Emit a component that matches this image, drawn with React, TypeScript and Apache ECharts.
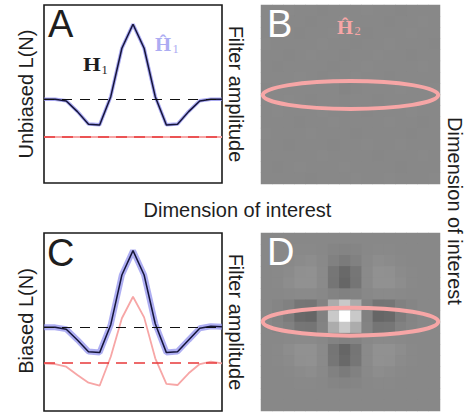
import React, { useEffect, useRef } from "react";
import * as echarts from "echarts";

// ---- data ----
const positions = ["1", "2", "3", "4", "5", "6", "7", "8", "9", "10", "11", "12", "13", "14", "15", "16", "17"];

// Panel A (unbiased)
const h1Unbiased = [0.47, 0.47, 0.461, 0.401, 0.33, 0.326, 0.485, 0.757, 0.892, 0.757, 0.485, 0.326, 0.33, 0.401, 0.461, 0.47, 0.47];
const h1HatUnbiased = [0.47, 0.47, 0.462, 0.402, 0.331, 0.327, 0.485, 0.757, 0.892, 0.757, 0.485, 0.327, 0.331, 0.402, 0.462, 0.47, 0.47];
const refUnbiased = 0.47;
const h2Unbiased = 0.264;

// Panel C (biased)
const h1Biased = [0.47, 0.47, 0.459, 0.399, 0.333, 0.328, 0.485, 0.764, 0.901, 0.764, 0.49, 0.328, 0.333, 0.399, 0.465, 0.476, 0.474];
const h1HatBiased = [0.47, 0.47, 0.46, 0.4, 0.334, 0.329, 0.485, 0.764, 0.901, 0.764, 0.49, 0.329, 0.334, 0.4, 0.465, 0.476, 0.474];
const h2Biased = [0.268, 0.264, 0.249, 0.202, 0.159, 0.142, 0.305, 0.521, 0.642, 0.526, 0.296, 0.152, 0.146, 0.212, 0.264, 0.277, 0.268];
const refBiased = 0.47;
const h2RefBiased = 0.271;

// Panel B: estimated second-order filter (unbiased) — nearly flat
const filterB = [
  [0, 0, 0.01, 0, 0, -0.01, 0, 0, 0, 0.01, 0, 0, -0.01, 0, 0, 0],
  [0, 0.01, 0, 0, -0.01, 0, 0, 0.01, 0, 0, 0, -0.01, 0, 0, 0.01, 0],
  [0, 0, 0, -0.01, 0, 0, 0.01, 0, 0, -0.01, 0, 0, 0, 0.01, 0, 0],
  [0.01, 0, 0, 0, 0, 0.01, 0, 0, -0.01, 0, 0, 0.01, 0, 0, 0, -0.01],
  [0, 0, -0.01, 0, 0.01, 0, 0, -0.01, 0, 0, 0.01, 0, 0, -0.01, 0, 0],
  [0, -0.01, 0, 0, 0, 0, -0.01, 0, 0, 0.01, 0, 0, 0, 0, 0.01, 0],
  [0, 0, 0, 0.01, 0, -0.01, 0, 0, 0.01, 0, 0, -0.01, 0, 0, 0, 0],
  [-0.01, 0, 0, 0, 0, 0, 0, -0.02, -0.01, 0, 0, 0, 0.01, 0, 0, 0.01],
  [0, 0, 0.01, 0, -0.01, 0, 0, -0.01, 0, 0, -0.01, 0, 0, 0, 0, 0],
  [0, 0.01, 0, 0, 0, 0.01, 0, 0, 0, -0.01, 0, 0, 0, 0.01, 0, 0],
  [0, 0, 0, -0.01, 0, 0, 0.01, 0, 0, 0, 0, 0.01, 0, 0, -0.01, 0],
  [0.01, 0, 0, 0, 0.01, 0, 0, 0, -0.01, 0, 0, 0, 0, -0.01, 0, 0],
  [0, 0, -0.01, 0, 0, 0, -0.01, 0, 0, 0.01, 0, 0, 0.01, 0, 0, 0],
  [0, 0, 0, 0, 0, 0.01, 0, 0, 0, 0, -0.01, 0, 0, 0, 0.01, 0],
  [0, -0.01, 0, 0.01, 0, 0, 0, 0.01, 0, 0, 0, 0, -0.01, 0, 0, 0],
  [0, 0, 0, 0, -0.01, 0, 0, 0, 0.01, 0, 0, 0.01, 0, 0, 0, 0.01],
];

// Panel D: estimated second-order filter (biased)
const filterD = [
  [0, 0, 0, 0, 0, 0, 0, 0, 0, 0, 0, 0, 0, 0, 0, 0],
  [0, 0, 0, 0.01, 0.01, 0, -0.02, -0.03, -0.02, 0, 0.01, 0.01, 0, 0, 0, 0],
  [0, 0, 0.01, 0.03, 0.04, 0.01, -0.06, -0.11, -0.06, 0.01, 0.04, 0.03, 0.01, 0, 0, 0],
  [0, 0.01, 0.03, 0.07, 0.08, 0.02, -0.15, -0.26, -0.15, 0.02, 0.08, 0.07, 0.03, 0.01, 0, 0],
  [0, 0.01, 0.04, 0.08, 0.08, 0.02, -0.16, -0.28, -0.16, 0.02, 0.08, 0.08, 0.04, 0.01, 0, 0],
  [0, 0, 0.01, 0.02, 0.02, 0, -0.04, -0.06, -0.04, 0, 0.02, 0.02, 0.01, 0, 0, 0],
  [0, -0.02, -0.06, -0.15, -0.16, -0.04, 0.3, 0.55, 0.3, -0.04, -0.16, -0.15, -0.06, -0.02, 0, 0],
  [0, -0.03, -0.11, -0.26, -0.28, -0.06, 0.55, 1, 0.55, -0.06, -0.28, -0.26, -0.11, -0.03, 0, 0],
  [0, -0.02, -0.06, -0.15, -0.16, -0.04, 0.3, 0.55, 0.3, -0.04, -0.16, -0.15, -0.06, -0.02, 0, 0],
  [0, 0, 0.01, 0.02, 0.02, 0, -0.04, -0.06, -0.04, 0, 0.02, 0.02, 0.01, 0, 0, 0],
  [0, 0.01, 0.04, 0.08, 0.08, 0.02, -0.16, -0.28, -0.16, 0.02, 0.08, 0.08, 0.04, 0.01, 0, 0],
  [0, 0.01, 0.03, 0.07, 0.08, 0.02, -0.15, -0.26, -0.15, 0.02, 0.08, 0.07, 0.03, 0.01, 0, 0],
  [0, 0, 0.01, 0.03, 0.04, 0.01, -0.06, -0.11, -0.06, 0.01, 0.04, 0.03, 0.01, 0, 0, 0],
  [0, 0, 0, 0.01, 0.01, 0, -0.02, -0.03, -0.02, 0, 0.01, 0.01, 0, 0, 0, 0],
  [0, 0, 0, 0, 0, 0, 0, 0, 0, 0, 0, 0, 0, 0, 0, 0],
  [0, 0, 0, 0, 0, 0, 0, 0, 0, 0, 0, 0, 0, 0, 0, 0],
];

// ---- styling / layout ----
const SANS = "'Liberation Sans', Arial, Helvetica, sans-serif";
const SERIF = "'Liberation Serif', 'Times New Roman', serif";
const INK = "#1e1e1e";
const NAVY = "#15153a";
const BLUE = "#8c8cec";
const PINK = "#f7a6a6";
const RED = "#e8383a";

const GA = { left: 44, top: 5, width: 178, height: 178 };
const GC = { left: 44, top: 233, width: 178, height: 178 };
const GB = { left: 261, top: 5, width: 179, height: 179 };
const GD = { left: 261, top: 233, width: 179, height: 178 };

function toCells(m: number[][]) {
  const out: number[][] = [];
  m.forEach((row, r) => row.forEach((v, c) => out.push([c, r, v])));
  return out;
}

function hLine(y: number, color: string, width: number, type: any) {
  return { yAxis: y, lineStyle: { color, width, type } };
}

function vText(text: string, x: number, y: number, rot: number) {
  return {
    type: "text",
    x,
    y,
    rotation: rot,
    z: 100,
    style: { text, fill: INK, fontSize: 20, fontFamily: SANS, align: "center", verticalAlign: "middle" },
  };
}

function letter(text: string, x: number, y: number, color: string) {
  return {
    type: "text",
    x,
    y,
    z: 100,
    style: { text, fill: color, fontSize: 38, fontFamily: SANS, align: "left", verticalAlign: "middle" },
  };
}

function mathLabel(main: string, sub: string, x: number, y: number, color: string, size: number, sx: number, subX: number, subY: number) {
  return [
    {
      type: "text",
      x,
      y,
      scaleX: sx,
      z: 100,
      style: { text: main, fill: color, fontSize: size, fontFamily: SERIF, fontWeight: "bold", align: "left", verticalAlign: "middle" },
    },
    {
      type: "text",
      x: subX,
      y: subY,
      z: 100,
      style: { text: sub, fill: color, fontSize: 12.5, fontFamily: SERIF, align: "left", verticalAlign: "middle" },
    },
  ];
}

export default function App() {
  const ref = useRef<HTMLDivElement>(null);

  useEffect(() => {
    if (!ref.current) return;
    const chart = echarts.init(ref.current, undefined, { renderer: "svg" });
    const cols = filterD[0].map((_, i) => String(i));
    const rows = filterD.map((_, i) => String(i));

    const lineAxisX = (gridIndex: number) => ({
      type: "category",
      gridIndex,
      data: positions,
      boundaryGap: false,
      show: false,
    });
    const lineAxisY = (gridIndex: number) => ({
      type: "value",
      gridIndex,
      min: 0,
      max: 1,
      show: false,
      splitLine: { show: false },
    });

    const markOpts = (data: any[]) => ({
      silent: true,
      symbol: ["none", "none"],
      label: { show: false },
      emphasis: { disabled: true },
      data,
    });

    const option: any = {
      animation: false,
      backgroundColor: "#ffffff",
      grid: [
        { ...GA, show: true, borderColor: "#1a1a1a", borderWidth: 1.6, backgroundColor: "transparent", containLabel: false },
        { ...GC, show: true, borderColor: "#1a1a1a", borderWidth: 1.6, backgroundColor: "transparent", containLabel: false },
        { ...GB, show: true, borderWidth: 0, backgroundColor: "#888888", containLabel: false },
        { ...GD, show: true, borderWidth: 0, backgroundColor: "#888888", containLabel: false },
      ],
      xAxis: [
        lineAxisX(0),
        lineAxisX(1),
        { type: "category", gridIndex: 2, data: cols, show: false },
        { type: "category", gridIndex: 3, data: cols, show: false },
      ],
      yAxis: [
        lineAxisY(0),
        lineAxisY(1),
        { type: "category", gridIndex: 2, data: rows, inverse: true, show: false },
        { type: "category", gridIndex: 3, data: rows, inverse: true, show: false },
      ],
      visualMap: [
        {
          show: false,
          type: "continuous",
          seriesIndex: [5, 6],
          min: -1.14,
          max: 1,
          inRange: { color: ["#000000", "#ffffff"] },
        },
      ],
      series: [
        {
          type: "line",
          xAxisIndex: 0,
          yAxisIndex: 0,
          data: h1HatUnbiased,
          symbol: "none",
          lineStyle: { color: BLUE, width: 3.5, opacity: 0.75 },
          markLine: markOpts([
            hLine(h2Unbiased, PINK, 2.2, "solid"),
            hLine(h2Unbiased, RED, 1.6, [11, 7]),
            hLine(refUnbiased, "#111111", 1.1, [10, 8]),
          ]),
          z: 2,
        },
        {
          type: "line",
          xAxisIndex: 0,
          yAxisIndex: 0,
          data: h1Unbiased,
          symbol: "none",
          lineStyle: { color: NAVY, width: 1.5 },
          z: 3,
        },
        {
          type: "line",
          xAxisIndex: 1,
          yAxisIndex: 1,
          data: h1HatBiased,
          symbol: "none",
          lineStyle: { color: BLUE, width: 6, opacity: 0.7 },
          markLine: markOpts([
            hLine(h2RefBiased, RED, 1.6, [11, 7]),
            hLine(refBiased, "#111111", 1.1, [10, 8]),
          ]),
          z: 2,
        },
        {
          type: "line",
          xAxisIndex: 1,
          yAxisIndex: 1,
          data: h1Biased,
          symbol: "none",
          lineStyle: { color: NAVY, width: 1.5 },
          z: 3,
        },
        {
          type: "line",
          xAxisIndex: 1,
          yAxisIndex: 1,
          data: h2Biased,
          symbol: "none",
          lineStyle: { color: PINK, width: 1.8 },
          z: 2,
        },
        {
          type: "heatmap",
          xAxisIndex: 2,
          yAxisIndex: 2,
          data: toCells(filterB),
          itemStyle: { borderWidth: 0 },
          emphasis: { disabled: true },
          progressive: 0,
        },
        {
          type: "heatmap",
          xAxisIndex: 3,
          yAxisIndex: 3,
          data: toCells(filterD),
          itemStyle: { borderWidth: 0 },
          emphasis: { disabled: true },
          progressive: 0,
        },
      ],
      graphic: [
        letter("A", 48, 24, INK),
        letter("B", 267, 24, "#ffffff"),
        letter("C", 47, 252.5, INK),
        letter("D", 267, 251.5, "#ffffff"),
        vText("Unbiased L(N)", 26, 94, Math.PI / 2),
        vText("Biased L(N)", 26, 321, Math.PI / 2),
        vText("Filter amplitude", 236, 94, -Math.PI / 2),
        vText("Filter amplitude", 236, 322, -Math.PI / 2),
        vText("Dimension of interest", 455, 211, -Math.PI / 2),
        vText("Dimension of interest", 237.5, 210, 0),
        ...mathLabel("H", "1", 83, 64.5, INK, 19, 1.2, 101.5, 69.5),
        ...mathLabel("\u0124", "1", 155, 44.5, "#acacf2", 18, 1.15, 172.5, 48.5),
        ...mathLabel("\u0124", "2", 337, 27.5, PINK, 18, 1.15, 354.5, 31),
        {
          type: "ellipse",
          z: 100,
          shape: { cx: 350.5, cy: 95, rx: 87.7, ry: 14 },
          style: { fill: "none", stroke: PINK, lineWidth: 4 },
        },
        {
          type: "ellipse",
          z: 100,
          shape: { cx: 350.5, cy: 321.7, rx: 87.7, ry: 14 },
          style: { fill: "none", stroke: PINK, lineWidth: 4 },
        },
      ],
    };

    chart.setOption(option);
    return () => chart.dispose();
  }, []);

  return (
    <div
      ref={ref}
      style={{ position: "absolute", left: 0, top: 0, width: 466, height: 415, background: "#ffffff" }}
    />
  );
}
